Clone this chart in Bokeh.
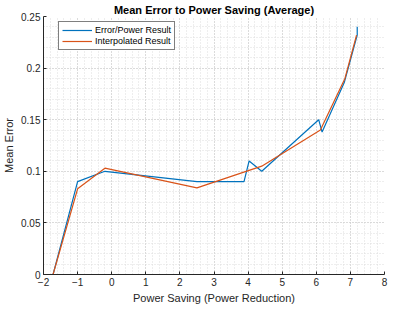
from bokeh.plotting import figure
from bokeh.models import Legend, LegendItem, FixedTicker
from bokeh.embed import file_html
from bokeh.resources import INLINE

# Data
power_saving = [-1.72, -1.0, -0.2, 2.5, 3.88, 4.03, 4.4, 6.07, 6.17, 6.82, 7.2, 7.2]
error_result = [0.0, 0.09, 0.1, 0.09, 0.09, 0.11, 0.1, 0.15, 0.138, 0.186, 0.232, 0.24]

interp_x = [-1.72, -1.0, -0.2, 2.5, 4.4, 6.12, 6.84, 7.18]
interp_y = [0.0, 0.083, 0.103, 0.084, 0.105, 0.14, 0.19, 0.232]

x_ticks = [-2, -1, 0, 1, 2, 3, 4, 5, 6, 7, 8]
y_ticks = [0, 0.05, 0.1, 0.15, 0.2, 0.25]
y_tick_labels = ["0", "0.05", "0.1", "0.15", "0.2", "0.25"]

FONT = "Liberation Sans"
TXT = "#262626"

p = figure(width=388, height=306, output_backend="svg", toolbar_location=None,
           x_range=(-2, 8), y_range=(0, 0.25),
           min_border_left=34, min_border_right=4, min_border_top=0, min_border_bottom=0,
           title="Mean Error to Power Saving (Average)")

p.title.text_font = FONT
p.title.text_font_size = "11px"
p.title.text_font_style = "bold"
p.title.text_color = "black"
p.title.align = "center"
p.title.standoff = 2
p.outline_line_color = None

for ax in (p.xaxis, p.yaxis):
    ax.axis_line_color = TXT
    ax.major_tick_line_color = TXT
    ax.major_tick_in = 3
    ax.major_tick_out = 0
    ax.minor_tick_in = 0
    ax.minor_tick_out = 0
    ax.major_label_text_font = FONT
    ax.major_label_text_font_size = "10px"
    ax.major_label_text_color = TXT
    ax.axis_label_text_font = FONT
    ax.axis_label_text_font_size = "11px"
    ax.axis_label_text_font_style = "normal"
    ax.axis_label_text_color = TXT
    ax.major_label_standoff = 3
    ax.axis_label_standoff = 3

p.xaxis.ticker = FixedTicker(ticks=x_ticks,
                             minor_ticks=[x_ticks[0] + 0.2 * i for i in range(51)])
p.yaxis.ticker = FixedTicker(ticks=y_ticks,
                             minor_ticks=[0.01 * i for i in range(26)])
p.yaxis.major_label_overrides = {t: l for t, l in zip(y_ticks, y_tick_labels)}
p.xaxis.axis_label = "Power Saving (Power Reduction)"
p.yaxis.axis_label = "Mean Error"

for g in (p.xgrid, p.ygrid):
    g.grid_line_color = "#c8c8c8"
    g.grid_line_dash = "1 2"
    g.grid_line_width = 1
    g.minor_grid_line_color = "#dcdcdc"
    g.minor_grid_line_dash = "1 2"
    g.minor_grid_line_width = 1

r1 = p.line(power_saving, error_result, line_color="#0072BD", line_width=1.2)
r2 = p.line(interp_x, interp_y, line_color="#D95319", line_width=1.2)

legend = Legend(items=[LegendItem(label="Error/Power Result", renderers=[r1]),
                       LegendItem(label="Interpolated Result", renderers=[r2])],
                margin=0)
legend.location = (15, 224)
legend.border_line_color = "black"
legend.border_line_width = 1
legend.background_fill_color = "white"
legend.background_fill_alpha = 1
legend.label_text_font = FONT
legend.label_text_font_size = "9px"
legend.label_text_color = "black"
legend.glyph_width = 30
legend.glyph_height = 10
legend.label_height = 10
legend.spacing = 1
legend.padding = 3
legend.label_standoff = 3
p.add_layout(legend, "center")

open("out.html", "w").write(file_html(p, INLINE))
